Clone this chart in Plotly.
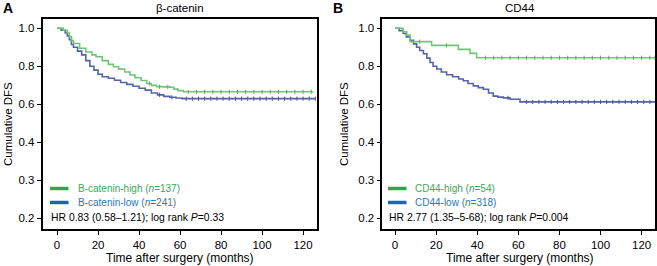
import numpy as np
import plotly.graph_objects as go

W, H = 657, 266

# ---------------- data ----------------
# Panel A: beta-catenin
a_high_t = [0, 3, 5, 6, 7, 8, 11, 14, 17, 19, 22, 25, 27.5, 30, 33, 35.6, 38, 41, 43.7, 46, 48.6, 52, 55, 57, 59, 61.6, 125]
a_high_v = [1.0, 0.99, 0.975, 0.955, 0.935, 0.92, 0.895, 0.875, 0.86, 0.85, 0.83, 0.81, 0.798, 0.785, 0.77, 0.754, 0.74, 0.725, 0.71, 0.70, 0.693, 0.692, 0.69, 0.68, 0.672, 0.666, 0.666]
a_low_t = [0, 2, 4, 5, 6, 7, 8, 10, 12, 14, 16, 18, 20, 22, 25, 28, 31, 34, 37, 40, 43, 46, 49, 52, 55, 58, 61, 126]
a_low_v = [1.0, 0.99, 0.975, 0.96, 0.94, 0.915, 0.90, 0.88, 0.86, 0.83, 0.80, 0.78, 0.758, 0.745, 0.737, 0.727, 0.715, 0.705, 0.695, 0.685, 0.675, 0.66, 0.65, 0.642, 0.637, 0.633, 0.63, 0.63]
a_high_cens = [45, 50, 54, 64, 68, 72, 76, 80, 84, 88, 92, 96, 100, 104, 108, 112, 116, 120, 124]
a_low_cens = [50, 56, 63, 66, 69, 72, 75, 78, 81, 84, 87, 90, 93, 96, 99, 102, 105, 108, 111, 114, 117, 120, 123, 126]

# Panel B: CD44
b_high_t = [0, 3.9, 5.7, 7.3, 17.8, 30.8, 36.5, 39.7, 126.5]
b_high_v = [1.0, 0.982, 0.965, 0.93, 0.91, 0.889, 0.868, 0.845, 0.845]
b_low_t = [0, 2, 4, 5.5, 7.3, 9, 10.5, 12, 13.8, 15.5, 17, 18.5, 20.3, 22.5, 25.1, 28, 31, 33.2, 35.5, 38.1, 40.5, 43, 45.5, 47.8, 50, 52.7, 56, 60.8, 126.5]
b_low_v = [1.0, 0.988, 0.973, 0.955, 0.937, 0.918, 0.90, 0.883, 0.866, 0.843, 0.82, 0.80, 0.786, 0.77, 0.756, 0.745, 0.733, 0.724, 0.71, 0.697, 0.688, 0.679, 0.66, 0.643, 0.638, 0.634, 0.627, 0.613, 0.613]
b_high_cens = [12, 25, 44, 48, 52, 56, 60, 64, 68, 72, 76, 80, 84, 88, 92, 96, 100, 104, 108, 112, 116, 120, 124, 126.5]
b_low_cens = [55, 64, 67, 70, 73, 76, 79, 82, 85, 88, 91, 94, 97, 100, 103, 106, 109, 112, 115, 118, 121, 124]

x_ticks = [0, 20, 40, 60, 80, 100, 120]
y_tickvals = [1.0, 0.8, 0.6, 0.4, 0.2, 0.0]
y_ticktext = ["1.0", "0.8", "0.6", "0.4", "0.3", "0.2"]

titles = ["β-catenin", "CD44"]
panel_letters = ["A", "B"]
legend_high = ["B-catenin-high (<i>n</i>=137)", "CD44-high (<i>n</i>=54)"]
legend_low = ["B-catenin-low (<i>n</i>=241)", "CD44-low (<i>n</i>=318)"]
hr_text = ["HR 0.83 (0.58–1.21); log rank <i>P</i>=0.33", "HR 2.77 (1.35–5-68); log rank <i>P</i>=0.004"]

GREEN = "#72c479"
BLUE = "#5564a8"
GREEN_C = "#5aa864"
BLUE_C = "#4a5790"
LEG_GREEN = "#2aa84c"
LEG_BLUE = "#1f66ae"
TXT_GREEN = "#3aaa55"
TXT_BLUE = "#2a78bf"
FONT = "Liberation Sans, Arial, sans-serif"


def step_at(t_arr, v_arr, tq):
    t_arr = np.asarray(t_arr)
    v_arr = np.asarray(v_arr)
    idx = np.searchsorted(t_arr, np.asarray(tq), side="right") - 1
    idx = np.clip(idx, 0, len(v_arr) - 1)
    return v_arr[idx]


fig = go.Figure()

panels = [
    (a_high_t, a_high_v, a_high_cens, a_low_t, a_low_v, a_low_cens, "x", "y"),
    (b_high_t, b_high_v, b_high_cens, b_low_t, b_low_v, b_low_cens, "x2", "y2"),
]

for (ht, hv, hc, lt, lv, lc, xa, ya) in panels:
    for t, v, c, col, ccol in [(lt, lv, lc, BLUE, BLUE_C), (ht, hv, hc, GREEN, GREEN_C)]:
        fig.add_trace(go.Scatter(x=t, y=v, mode="lines", line=dict(color=col, width=1.6, shape="hv"),
                                 xaxis=xa, yaxis=ya, showlegend=False, hoverinfo="skip"))
        fig.add_trace(go.Scatter(x=c, y=step_at(t, v, c), mode="markers",
                                 marker=dict(symbol="line-ns", size=3, line=dict(color=ccol, width=1)),
                                 xaxis=xa, yaxis=ya, showlegend=False, hoverinfo="skip"))

# domains in pixels
xdomA = [42.5 / W, 317 / W]
xdomB = [382.3 / W, 655 / W]
ydom = [1 - 229 / H, 1 - 19 / H]

axis_common = dict(showline=True, linecolor="black", linewidth=1.5, mirror=True, showgrid=False,
                   zeroline=False, ticks="outside", ticklen=4, tickcolor="black", tickwidth=1,
                   tickfont=dict(family=FONT, size=11.5, color="black"))

fig.update_layout(
    width=W, height=H, autosize=False,
    margin=dict(l=0, r=0, t=0, b=0),
    paper_bgcolor="white", plot_bgcolor="white",
    xaxis=dict(domain=xdomA, range=[-7.1, 126.8], tickvals=x_ticks, anchor="y", **axis_common),
    yaxis=dict(domain=ydom, range=[-0.056, 1.049], tickvals=y_tickvals, ticktext=y_ticktext, anchor="x", **axis_common),
    xaxis2=dict(domain=xdomB, range=[-6.2, 126.5], tickvals=x_ticks, anchor="y2", **axis_common),
    yaxis2=dict(domain=ydom, range=[-0.056, 1.049], tickvals=y_tickvals, ticktext=y_ticktext, anchor="x2", **axis_common),
)

ann = []
shapes = []
title_cx = [179.8, 520]
letter_x = [1, 331]
ytitle_x = [8, 344]
xtitle_cx = [180, 520]
leg_x0 = [50, 388]
leg_x1 = [68.5, 406.5]
leg_tx = [76, 413]
hr_x = [49, 387]

for i in range(2):
    ann.append(dict(text=titles[i], x=title_cx[i] / W, y=1 - 8 / H, xref="paper", yref="paper",
                    showarrow=False, xanchor="center", yanchor="middle",
                    font=dict(family=FONT, size=11.5, color="black")))
    ann.append(dict(text="<b>" + panel_letters[i] + "</b>", x=letter_x[i] / W, y=1 - 8 / H, xref="paper", yref="paper",
                    showarrow=False, xanchor="left", yanchor="middle",
                    font=dict(family=FONT, size=14, color="black")))
    ann.append(dict(text="Cumulative DFS", x=ytitle_x[i] / W, y=1 - 124 / H, xref="paper", yref="paper",
                    showarrow=False, textangle=-90, xanchor="center", yanchor="middle",
                    font=dict(family=FONT, size=11.5, color="black")))
    ann.append(dict(text="Time after surgery (months)", x=xtitle_cx[i] / W, y=1 - 258 / H, xref="paper", yref="paper",
                    showarrow=False, xanchor="center", yanchor="middle",
                    font=dict(family=FONT, size=12, color="black")))
    for yy, lcol, tcol, txt in [(188.5, LEG_GREEN, TXT_GREEN, legend_high[i]), (202.5, LEG_BLUE, TXT_BLUE, legend_low[i])]:
        shapes.append(dict(type="line", xref="paper", yref="paper", x0=leg_x0[i] / W, x1=leg_x1[i] / W,
                           y0=1 - yy / H, y1=1 - yy / H, line=dict(color=lcol, width=3.5)))
        ann.append(dict(text=txt, x=leg_tx[i] / W, y=1 - yy / H, xref="paper", yref="paper",
                        showarrow=False, xanchor="left", yanchor="middle",
                        font=dict(family=FONT, size=10, color=tcol)))
    ann.append(dict(text=hr_text[i], x=hr_x[i] / W, y=1 - 217 / H, xref="paper", yref="paper",
                    showarrow=False, xanchor="left", yanchor="middle",
                    font=dict(family=FONT, size=10.4, color="black")))

fig.update_layout(annotations=ann, shapes=shapes)
fig.write_html("out.html", config={"displayModeBar": False},
               post_script="document.body.style.margin='0px';document.body.style.overflow='hidden';")
